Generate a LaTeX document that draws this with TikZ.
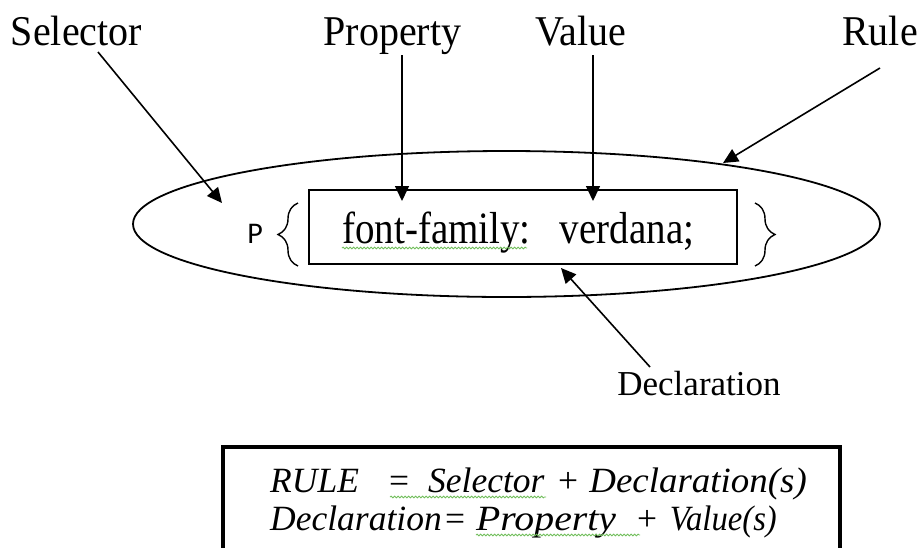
\documentclass[tikz,border=0pt]{standalone}
\usepackage{fontspec}
\usepackage{graphicx}
\setmainfont{Liberation Serif}
\newfontfamily\calibri{Carlito}
\usetikzlibrary{arrows.meta,shapes.geometric,decorations.pathreplacing,decorations.pathmorphing}

\definecolor{spellgreen}{RGB}{112,190,90}

\tikzset{
  toplabel/.style={anchor=base, inner sep=0pt, font=\fontsize{40}{40}\selectfont},
  pointer/.style={line width=1.6pt, -{Triangle[length=15pt,width=14pt]}},
  thinline/.style={line width=1.8pt},
  bracket/.style={line width=1.4pt, decorate, decoration={brace, amplitude=20pt, aspect=0.5}},
  squiggle/.style={spellgreen, line width=0.8pt, decorate, decoration={snake, amplitude=0.9pt, segment length=3.5pt}},
  formula/.style={anchor=base west, inner sep=0pt, font=\fontsize{35.5}{35.5}\selectfont\itshape},
  formulaR/.style={formula, anchor=base east},
  operator/.style={formula, font=\fontsize{35.5}{35.5}\selectfont\upshape},
}

\begin{document}
\begin{tikzpicture}[x=1pt,y=-1pt]
\useasboundingbox[fill=white] (0,0) rectangle (921,547);

% labels along the top and the declaration label
\node[toplabel] (selL)  at (76.5,45) {\scalebox{1}[1.06]{Selector}};
\node[toplabel] (propL) at (392.5,45) {\scalebox{1}[1.06]{Property}};
\node[toplabel] (valL)  at (581,45) {\scalebox{1}[1.06]{Value}};
\node[toplabel] (ruleL) at (880,45) {\scalebox{1}[1.06]{Rule}};
\node[anchor=base, inner sep=0pt, font=\fontsize{35}{35}\selectfont] (declL) at (699,395) {Declaration};

% the rule: ellipse around the selector and its block
\node[draw, thinline, ellipse, minimum width=747pt, minimum height=146pt, inner sep=0pt] (rule) at (506.5,224) {};

% declaration box
\node[draw, line width=1.6pt, minimum width=428pt, minimum height=74pt, inner sep=0pt] (decl) at (523,227) {};
\node[anchor=base west, inner sep=0pt, font=\fontsize{39}{39}\selectfont] (declText) at (342,243)
  {\scalebox{1}[1.15]{font-family:\ \ \ verdana;}};
\draw[squiggle] (342,248) -- (527,248);

% selector and braces
\node[anchor=base, inner sep=0pt, font=\calibri\fontsize{30}{30}\selectfont] (selP) at (255,243) {P};
\coordinate (lbB) at (298,266);
\coordinate (lbT) at (298,203);
\coordinate (rbT) at (755,203);
\coordinate (rbB) at (755,266);
\draw[bracket] (lbB) -- (lbT);
\draw[bracket] (rbT) -- (rbB);

% pointer end points
\coordinate (selS)  at (98,52);
\coordinate (selE)  at (222,203);
\coordinate (propS) at (402,55);
\coordinate (propE) at (402,201);
\coordinate (valS)  at (593,55);
\coordinate (valE)  at (593,201);
\coordinate (ruleS) at (880,68);
\coordinate (ruleE) at (723,163);
\coordinate (declS) at (650,367);
\coordinate (declE) at (561,268);

\draw[pointer] (selS) -- (selE);
\draw[pointer] (propS) -- (propE);
\draw[pointer] (valS) -- (valE);
\draw[pointer] (ruleS) -- (ruleE);
\draw[pointer] (declS) -- (declE);

% summary box, running off the lower edge
\draw[line width=3.5pt] (223,570) -- (223,447) -- (840,447) -- (840,570);

% first line: RULE = Selector + Declaration(s)
\node[formula]  (f1a) at (270,492) {RULE};
\node[operator] (f1b) at (389,492) {=};
\node[formula]  (f1c) at (428,492) {Selector};
\node[operator] (f1d) at (558,492) {+};
\node[formulaR] (f1e) at (807,492) {\scalebox{1.04}[1]{Declaration(s)}};
\draw[squiggle] (390,497) -- (546,497);

% second line: Declaration = Property + Value(s)
\node[formula]  (f2a) at (270,530) {Declaration};
\node[operator] (f2b) at (445,530) {=};
\node[formula]  (f2c) at (476,530) {\scalebox{1.12}[1]{Property}};
\node[operator] (f2d) at (637,530) {+};
\node[formulaR] (f2e) at (777,530) {\scalebox{0.92}[1]{Value(s)}};
\draw[squiggle] (476,535) -- (640,535);
\end{tikzpicture}
\end{document}
